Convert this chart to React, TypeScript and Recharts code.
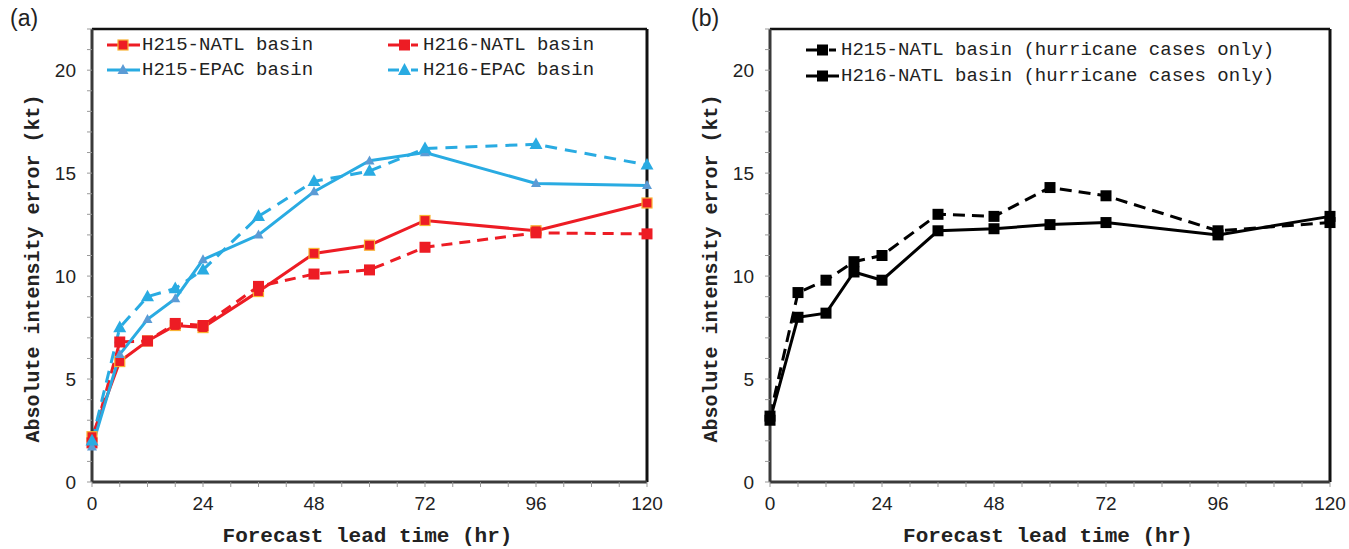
import React from 'react';
import { LineChart, Line, XAxis, YAxis, ReferenceLine } from 'recharts';

const hours = [0, 6, 12, 18, 24, 36, 48, 60, 72, 96, 120];
const h215Natl = [2.2, 5.85, 6.85, 7.6, 7.5, 9.25, 11.1, 11.5, 12.7, 12.2, 13.55];
const h216Natl = [1.9, 6.8, 6.85, 7.7, 7.6, 9.5, 10.1, 10.3, 11.4, 12.1, 12.05];
const h215Epac = [1.7, 6.2, 7.9, 8.9, 10.8, 12.0, 14.1, 15.6, 16.0, 14.5, 14.4];
const h216Epac = [2.0, 7.5, 9.0, 9.4, 10.3, 12.9, 14.6, 15.1, 16.2, 16.4, 15.4];
const h215Hur = [3.2, 9.2, 9.8, 10.7, 11.0, 13.0, 12.9, 14.3, 13.9, 12.2, 12.6];
const h216Hur = [3.0, 8.0, 8.2, 10.2, 9.8, 12.2, 12.3, 12.5, 12.6, 12.0, 12.9];

const xTicks = [0, 6, 12, 18, 24, 30, 36, 42, 48, 54, 60, 66, 72, 78, 84, 90, 96, 102, 108, 114, 120];
const yTicks = Array.from({ length: 23 }, (_, i) => i);

const dataA = hours.map((h, i) => ({
  h,
  h215Natl: h215Natl[i],
  h216Natl: h216Natl[i],
  h215Epac: h215Epac[i],
  h216Epac: h216Epac[i],
}));
const dataB = hours.map((h, i) => ({ h, h215Hur: h215Hur[i], h216Hur: h216Hur[i] }));

const RED = '#ED1C24';
const ORANGE = '#F9B233';
const BLUE = '#29ABE2';
const STEEL = '#5B9BD5';

const MONO = '"Liberation Mono", "Courier New", monospace';
const SANS = '"Liberation Sans", Arial, sans-serif';

const squareDot = (size: number, fill: string, stroke?: string) => (props: any) => {
  const { cx, cy, index } = props;
  if (cx == null || cy == null) return <g key={index} />;
  return (
    <rect key={index} x={cx - size / 2} y={cy - size / 2} width={size} height={size}
      fill={fill} stroke={stroke || 'none'} strokeWidth={stroke ? 1.2 : 0} />
  );
};
const triDot = (size: number, fill: string) => (props: any) => {
  const { cx, cy, index } = props;
  if (cx == null || cy == null) return <g key={index} />;
  const h = size * 0.9;
  const pts = `${cx},${cy - h * 0.6} ${cx - size / 2},${cy + h * 0.4} ${cx + size / 2},${cy + h * 0.4}`;
  return <polygon key={index} points={pts} fill={fill} />;
};

const YTick = (props: any) => {
  const { x, y, payload } = props;
  if (payload.value % 5 !== 0) return <g />;
  return (
    <text x={x} y={y} dy={6.5} textAnchor="end" fontFamily={SANS} fontSize={19} fill="#222">
      {payload.value}
    </text>
  );
};
const XTick = (props: any) => {
  const { x, y, payload } = props;
  if (payload.value % 24 !== 0) return <g />;
  return (
    <text x={x} y={y} dy={14} textAnchor="middle" fontFamily={SANS} fontSize={19} fill="#222">
      {payload.value}
    </text>
  );
};

const YTitle = (props: any) => {
  const { viewBox } = props;
  const cx = 33;
  const cy = viewBox.y + viewBox.height / 2 + 13;
  return (
    <text x={cx} y={cy} transform={`rotate(-90 ${cx} ${cy})`} textAnchor="middle" dominantBaseline="central"
      fontFamily={MONO} fontWeight="bold" fontSize={20} fill="#222">
      Absolute intensity error (kt)
    </text>
  );
};
const XTitle = (props: any) => {
  const { viewBox } = props;
  const cx = viewBox.x + viewBox.width / 2 - 2;
  return (
    <text x={cx} y={542} textAnchor="middle" fontFamily={MONO} fontWeight="bold" fontSize={21} fill="#222">
      Forecast lead time (hr)
    </text>
  );
};

const LegendIcon = ({ color, dashed, marker }: { color: string; dashed: boolean; marker: React.ReactNode }) => (
  <svg width={36} height={16} style={{ display: 'block', flex: 'none' }}>
    {dashed ? (
      <>
        <line x1={1} y1={8} x2={12} y2={8} stroke={color} strokeWidth={3} />
        <line x1={24} y1={8} x2={31} y2={8} stroke={color} strokeWidth={3} />
      </>
    ) : (
      <line x1={1} y1={8} x2={34} y2={8} stroke={color} strokeWidth={3} />
    )}
    {marker}
  </svg>
);

const legendItem = (icon: React.ReactNode, text: string, left: number, top: number) => (
  <div key={text} style={{ position: 'absolute', left, top, display: 'flex', alignItems: 'center', whiteSpace: 'pre' }}>
    {icon}
    <span style={{ fontFamily: MONO, fontSize: 19, color: '#222', marginLeft: 0, lineHeight: '20px' }}>{text}</span>
  </div>
);

const axisCommon = {
  axisLine: { stroke: '#3a3a3a', strokeWidth: 3 },
  tickLine: { stroke: '#999', strokeWidth: 1 },
};

export default function App() {
  return (
    <div style={{ position: 'absolute', left: 0, top: 0, width: 1349, height: 549, background: '#fff' }}>
      <div style={{ position: 'absolute', left: 10, top: 5, fontFamily: SANS, fontSize: 23, color: '#222' }}>(a)</div>
      <div style={{ position: 'absolute', left: 691, top: 5, fontFamily: SANS, fontSize: 23, color: '#222' }}>(b)</div>

      <div style={{ position: 'absolute', left: 0, top: 0 }}>
        <LineChart width={670} height={549} data={dataA} margin={{ top: 29, right: 23, left: 0, bottom: 0 }}>
          <XAxis dataKey="h" type="number" domain={[0, 120]} ticks={xTicks} interval={0} height={67}
            tickSize={5} tickMargin={9} tick={<XTick />} label={<XTitle />} {...axisCommon} />
          <YAxis type="number" domain={[0, 22]} ticks={yTicks} interval={0} width={92}
            tickSize={5} tickMargin={11} tick={<YTick />} label={<YTitle />} {...axisCommon} />
          <ReferenceLine y={22} stroke="#111" strokeWidth={2.5} />
          <ReferenceLine x={120} stroke="#111" strokeWidth={3} />
          <Line dataKey="h215Natl" stroke={RED} strokeWidth={3} isAnimationActive={false}
            dot={squareDot(10, RED, ORANGE)} />
          <Line dataKey="h216Natl" stroke={RED} strokeWidth={3} strokeDasharray="11 7" isAnimationActive={false}
            dot={squareDot(11, RED)} />
          <Line dataKey="h215Epac" stroke={BLUE} strokeWidth={3} isAnimationActive={false}
            dot={triDot(10, STEEL)} />
          <Line dataKey="h216Epac" stroke={BLUE} strokeWidth={3} strokeDasharray="12 8" isAnimationActive={false}
            dot={triDot(13, BLUE)} />
        </LineChart>
      </div>

      <div style={{ position: 'absolute', left: 678, top: 0 }}>
        <LineChart width={671} height={549} data={dataB} margin={{ top: 29, right: 19, left: 0, bottom: 0 }}>
          <XAxis dataKey="h" type="number" domain={[0, 120]} ticks={xTicks} interval={0} height={67}
            tickSize={5} tickMargin={9} tick={<XTick />} label={<XTitle />} {...axisCommon} />
          <YAxis type="number" domain={[0, 22]} ticks={yTicks} interval={0} width={92}
            tickSize={5} tickMargin={11} tick={<YTick />} label={<YTitle />} {...axisCommon} />
          <ReferenceLine y={22} stroke="#111" strokeWidth={2.5} />
          <ReferenceLine x={120} stroke="#111" strokeWidth={3} />
          <Line dataKey="h215Hur" stroke="#000" strokeWidth={3} strokeDasharray="12 7" isAnimationActive={false}
            dot={squareDot(11, '#000')} />
          <Line dataKey="h216Hur" stroke="#000" strokeWidth={3} isAnimationActive={false}
            dot={squareDot(11, '#000')} />
        </LineChart>
      </div>

      {legendItem(<LegendIcon color={RED} dashed={false} marker={<rect x={12} y={3} width={10} height={10} fill={RED} stroke={ORANGE} strokeWidth={1.2} />} />, 'H215-NATL basin', 106, 35)}
      {legendItem(<LegendIcon color={RED} dashed={true} marker={<rect x={12} y={2.5} width={11} height={11} fill={RED} />} />, 'H216-NATL basin', 387, 35)}
      {legendItem(<LegendIcon color={BLUE} dashed={false} marker={<polygon points="17,2 11.5,12 22.5,12" fill={STEEL} />} />, 'H215-EPAC basin', 106, 60)}
      {legendItem(<LegendIcon color={BLUE} dashed={true} marker={<polygon points="17.5,1 11,13 24,13" fill={BLUE} />} />, 'H216-EPAC basin', 387, 60)}

      {legendItem(<LegendIcon color="#000" dashed={true} marker={<rect x={12} y={2.5} width={11} height={11} fill="#000" />} />, 'H215-NATL basin (hurricane cases only)', 805, 40)}
      {legendItem(<LegendIcon color="#000" dashed={false} marker={<rect x={12} y={2.5} width={11} height={11} fill="#000" />} />, 'H216-NATL basin (hurricane cases only)', 805, 66)}
    </div>
  );
}
